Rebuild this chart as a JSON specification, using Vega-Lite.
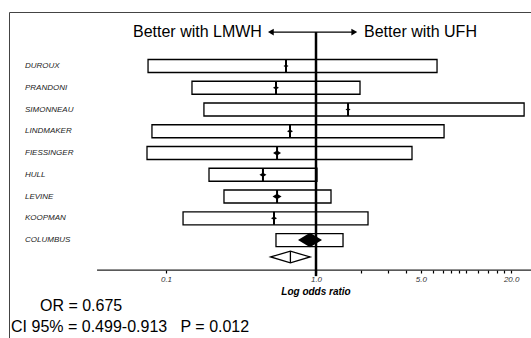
{
  "$schema": "https://vega.github.io/schema/vega-lite/v6.json",
  "width": 523,
  "height": 327,
  "autosize": {"type": "none"},
  "padding": {"left": 9, "top": 12, "right": 0, "bottom": 0},
  "background": "white",
  "config": {"view": {"stroke": "#444", "strokeWidth": 1}, "font": "Liberation Sans"},
  "datasets": {
    "studies": [
      {"study": "DUROUX", "row": 1, "lo": 0.0759, "hi": 6.41, "or": 0.631, "weight": 2.7},
      {"study": "PRANDONI", "row": 2, "lo": 0.149, "hi": 1.965, "or": 0.541, "weight": 3.9},
      {"study": "SIMONNEAU", "row": 3, "lo": 0.179, "hi": 24.4, "or": 1.635, "weight": 2.7},
      {"study": "LINDMAKER", "row": 4, "lo": 0.0806, "hi": 7.14, "or": 0.671, "weight": 3.9},
      {"study": "FIESSINGER", "row": 5, "lo": 0.0747, "hi": 4.365, "or": 0.55, "weight": 6.9},
      {"study": "HULL", "row": 6, "lo": 0.1935, "hi": 1.015, "or": 0.443, "weight": 5.3},
      {"study": "LEVINE", "row": 7, "lo": 0.2435, "hi": 1.259, "or": 0.55, "weight": 8.7},
      {"study": "KOOPMAN", "row": 8, "lo": 0.1299, "hi": 2.222, "or": 0.525, "weight": 3.9},
      {"study": "COLUMBUS", "row": 9, "lo": 0.541, "hi": 1.514, "or": 0.912, "weight": 62}
    ],
    "pooled": [{"row": 9.78, "lo": 0.499, "hi": 0.913, "or": 0.675}],
    "refline": [{"x": 1, "from": -0.56, "to": 10.66}],
    "axisline": [{"from": 0.0347, "to": 27.54, "row": 10.38}],
    "arrow": [{"from": 0.5, "to": 1.8, "row": -0.56}],
    "arrowheads": [{"x": 0.5, "row": -0.56, "dir": "left"}, {"x": 1.8, "row": -0.56, "dir": "right"}],
    "headings": [
      {"label": "Better with LMWH", "x": 0.436, "row": -0.56, "side": "left"},
      {"label": "Better with UFH", "x": 2.09, "row": -0.56, "side": "right"}
    ],
    "stats": [
      {"label": "OR = 0.675", "x": 0.01445, "row": 12.03},
      {"label": "CI 95% = 0.499-0.913\u00a0\u00a0\u00a0P = 0.012", "x": 0.00927, "row": 13.0}
    ]
  },
  "layer": [
    {
      "data": {"name": "studies"},
      "mark": {"type": "rect", "fill": "white", "fillOpacity": 0, "stroke": "black", "strokeWidth": 1.3, "yOffset": -6.5, "y2Offset": 6.5},
      "encoding": {
        "x": {
          "field": "lo", "type": "quantitative",
          "scale": {"type": "log", "domain": [0.008981, 27.54], "nice": false, "zero": false},
          "axis": {
            "orient": "bottom", "offset": -69, "title": null, "grid": false, "domain": false,
            "values": [0.1, 1, 2, 3, 4, 5, 6, 7, 8, 9, 10, 12, 14, 16, 18, 20],
            "labelExpr": "datum.value == 0.1 ? '0.1' : datum.value == 1 ? '1.0' : datum.value == 5 ? '5.0' : datum.value == 20 ? '20.0' : ''",
            "labelOverlap": false, "labelFlush": false,
            "tickColor": "black", "tickSize": 3, "tickWidth": 1.2,
            "labelFontStyle": "italic", "labelFontSize": 8, "labelColor": "#333", "labelPadding": 2
          }
        },
        "x2": {"field": "hi"},
        "y": {"field": "row", "type": "quantitative", "scale": {"domain": [-1.483, 13.55], "reverse": true, "nice": false, "zero": false}, "axis": null},
        "y2": {"field": "row"}
      }
    },
    {
      "data": {"name": "studies"},
      "mark": {"type": "rule", "color": "black", "strokeWidth": 2, "yOffset": -6.5, "y2Offset": 6.5},
      "encoding": {
        "x": {"field": "or", "type": "quantitative", "title": null},
        "y": {"field": "row", "type": "quantitative"},
        "y2": {"field": "row"}
      }
    },
    {
      "data": {"name": "studies"},
      "mark": {"type": "point", "filled": true, "color": "black", "opacity": 1, "shape": "M-1,0L0,-0.6L1,0L0,0.6Z"},
      "encoding": {
        "x": {"field": "or", "type": "quantitative", "title": null},
        "y": {"field": "row", "type": "quantitative"},
        "size": {"field": "weight", "type": "quantitative", "scale": {"domain": [0, 62], "range": [0, 576]}, "legend": null}
      }
    },
    {
      "data": {"name": "pooled"},
      "mark": {"type": "point", "filled": false, "stroke": "black", "strokeWidth": 1.3, "opacity": 1, "size": 1552, "shape": "M-1,0L0,-0.3L1,0L0,0.3Z"},
      "encoding": {
        "x": {"field": "or", "type": "quantitative", "title": null},
        "y": {"field": "row", "type": "quantitative"}
      }
    },
    {
      "data": {"name": "pooled"},
      "mark": {"type": "rule", "color": "black", "strokeWidth": 1.3, "yOffset": -6, "y2Offset": 6},
      "encoding": {
        "x": {"field": "or", "type": "quantitative", "title": null},
        "y": {"field": "row", "type": "quantitative"},
        "y2": {"field": "row"}
      }
    },
    {
      "data": {"name": "axisline"},
      "mark": {"type": "rule", "color": "#222", "strokeWidth": 1.3},
      "encoding": {
        "x": {"field": "from", "type": "quantitative", "title": null},
        "x2": {"field": "to"},
        "y": {"field": "row", "type": "quantitative"}
      }
    },
    {
      "data": {"name": "refline"},
      "mark": {"type": "rule", "color": "black", "strokeWidth": 2.5},
      "encoding": {
        "x": {"field": "x", "type": "quantitative", "title": null},
        "y": {"field": "from", "type": "quantitative"},
        "y2": {"field": "to"}
      }
    },
    {
      "data": {"name": "arrow"},
      "mark": {"type": "rule", "color": "black", "strokeWidth": 1.3},
      "encoding": {
        "x": {"field": "from", "type": "quantitative", "title": null},
        "x2": {"field": "to"},
        "y": {"field": "row", "type": "quantitative"}
      }
    },
    {
      "data": {"name": "arrowheads"},
      "mark": {"type": "point", "filled": true, "color": "black", "opacity": 1, "size": 45},
      "encoding": {
        "x": {"field": "x", "type": "quantitative", "title": null},
        "y": {"field": "row", "type": "quantitative"},
        "shape": {"field": "dir", "type": "nominal", "scale": {"domain": ["left", "right"], "range": ["triangle-left", "triangle-right"]}, "legend": null}
      }
    },
    {
      "data": {"name": "headings"},
      "transform": [{"filter": "datum.side == 'left'"}],
      "mark": {"type": "text", "fontSize": 16, "align": "right", "baseline": "middle", "color": "black"},
      "encoding": {
        "x": {"field": "x", "type": "quantitative", "title": null},
        "y": {"field": "row", "type": "quantitative"},
        "text": {"field": "label"}
      }
    },
    {
      "data": {"name": "headings"},
      "transform": [{"filter": "datum.side == 'right'"}],
      "mark": {"type": "text", "fontSize": 16, "align": "left", "baseline": "middle", "color": "black"},
      "encoding": {
        "x": {"field": "x", "type": "quantitative", "title": null},
        "y": {"field": "row", "type": "quantitative"},
        "text": {"field": "label"}
      }
    },
    {
      "data": {"name": "studies"},
      "mark": {"type": "text", "fontSize": 8, "fontStyle": "italic", "align": "left", "baseline": "middle", "color": "#222"},
      "encoding": {
        "x": {"datum": 0.01148, "type": "quantitative"},
        "y": {"field": "row", "type": "quantitative"},
        "text": {"field": "study"}
      }
    },
    {
      "data": {"name": "stats"},
      "mark": {"type": "text", "fontSize": 16, "align": "left", "baseline": "middle", "color": "black"},
      "encoding": {
        "x": {"field": "x", "type": "quantitative", "title": null},
        "y": {"field": "row", "type": "quantitative"},
        "text": {"field": "label"}
      }
    },
    {
      "data": {"values": [{"label": "Log odds ratio", "x": 1, "row": 11.4}]},
      "mark": {"type": "text", "fontSize": 10, "fontStyle": "italic", "fontWeight": "bold", "align": "center", "baseline": "middle", "color": "black"},
      "encoding": {
        "x": {"field": "x", "type": "quantitative", "title": null},
        "y": {"field": "row", "type": "quantitative"},
        "text": {"field": "label"}
      }
    }
  ]
}
